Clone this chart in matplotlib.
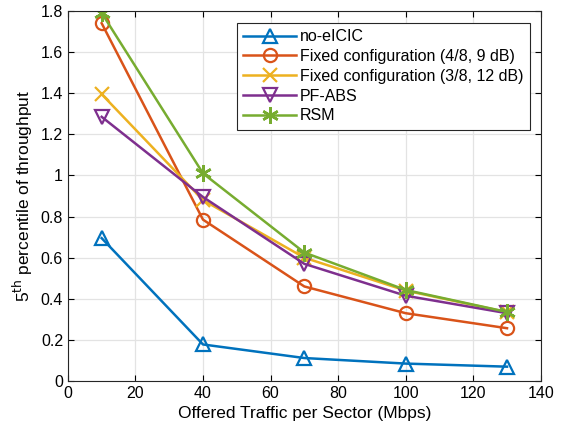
import numpy as np
import matplotlib.pyplot as plt

plt.rcParams['font.family'] = ['Liberation Sans', 'DejaVu Sans']

# Dati
traffic = [10, 40, 70, 100, 130]
no_eicic = [0.695, 0.178, 0.112, 0.085, 0.07]
fixed_4_8 = [1.74, 0.785, 0.46, 0.33, 0.257]
fixed_3_8 = [1.395, 0.88, 0.60, 0.44, 0.335]
pf_abs = [1.285, 0.895, 0.57, 0.415, 0.33]
rsm = [1.79, 1.01, 0.625, 0.443, 0.336]

labels = ['no-eICIC', 'Fixed configuration (4/8, 9 dB)',
          'Fixed configuration (3/8, 12 dB)', 'PF-ABS', 'RSM']
series = [no_eicic, fixed_4_8, fixed_3_8, pf_abs, rsm]
colors = [(0, 0.447, 0.741), (0.85, 0.325, 0.098), (0.929, 0.694, 0.125),
          (0.494, 0.184, 0.556), (0.466, 0.674, 0.188)]
markers = ['^', 'o', 'x', 'v', '*']

fig = plt.figure(figsize=(5.61, 4.37), dpi=100)
ax = fig.add_axes([0.121, 0.128, 0.843, 0.847])

for y, lab, c, mk in zip(series, labels, colors, markers):
    if mk == '*':
        # asterisco tipo MATLAB
        ax.plot(traffic, y, color=c, lw=1.8, marker=(6, 2, 0), ms=12,
                mew=1.8, mfc='none', label=lab)
    else:
        ax.plot(traffic, y, color=c, lw=1.8, marker=mk, ms=9.5,
                mew=1.6, mfc='none', label=lab)

ax.set_xlim(0, 140)
ax.set_ylim(0, 1.8)
ax.set_xticks(np.arange(0, 141, 20))
ax.set_yticks(np.arange(0, 1.81, 0.2))
ax.set_yticklabels(['0', '0.2', '0.4', '0.6', '0.8', '1', '1.2', '1.4', '1.6', '1.8'])
ax.grid(True, color='#e3e3e3', lw=0.9)
ax.set_axisbelow(True)
ax.tick_params(direction='in', labelsize=11.5, length=4, top=True, right=True)
for s in ax.spines.values():
    s.set_color('#262626')
    s.set_linewidth(0.8)

ax.set_xlabel('Offered Traffic per Sector (Mbps)', fontsize=12.5)
ax.set_ylabel('5$^{\\mathrm{th}}$ percentile of throughput', fontsize=12.5)

leg = ax.legend(loc='upper right', bbox_to_anchor=(0.977, 0.968), fontsize=11.5,
                fancybox=False, edgecolor='#262626', framealpha=1,
                handlelength=3.3, borderaxespad=0, labelspacing=0.3,
                handletextpad=0.25, borderpad=0.4)
leg.get_frame().set_linewidth(0.8)

fig.savefig('out.png', dpi=100)
